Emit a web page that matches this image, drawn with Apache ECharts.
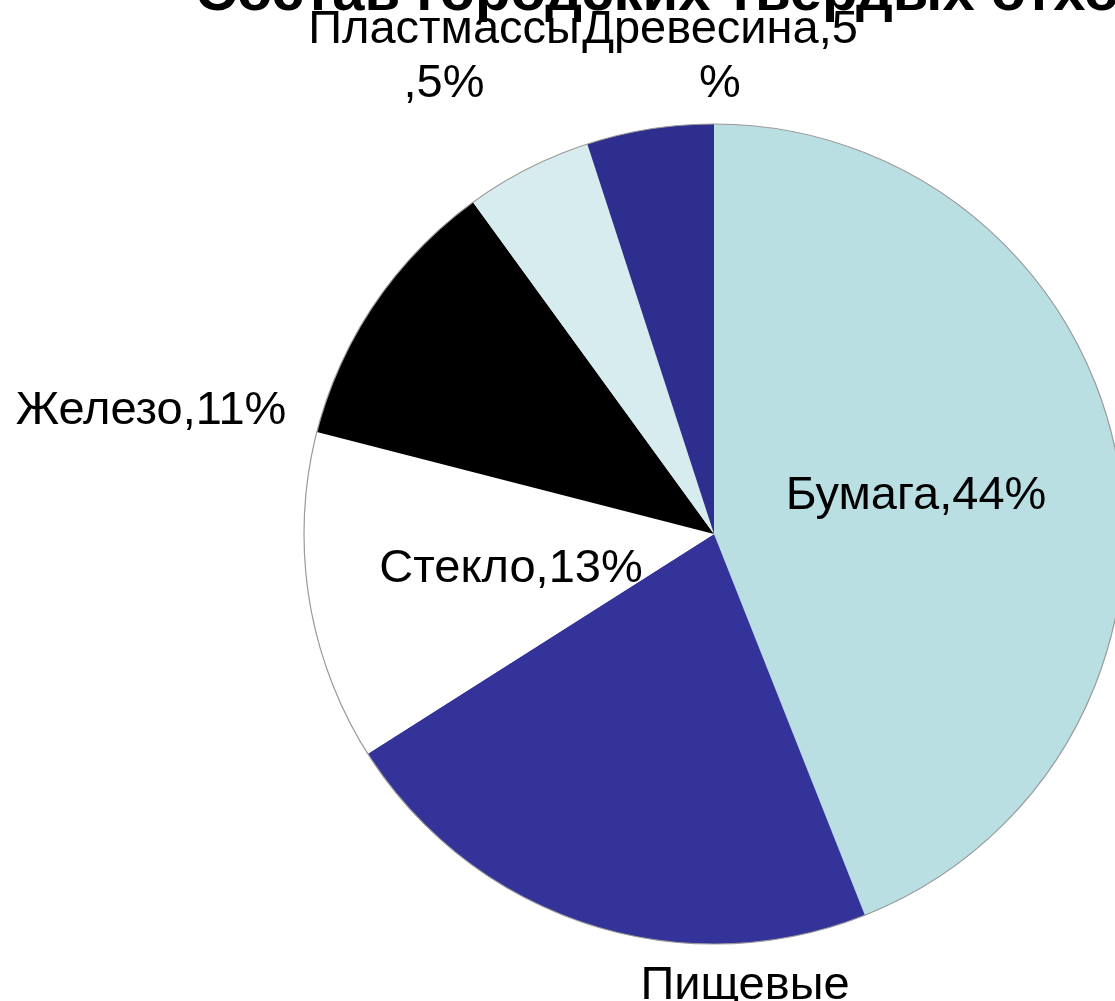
<!DOCTYPE html>
<html>
<head>
<meta charset="utf-8">
<script src="https://cdn.jsdelivr.net/npm/echarts@6/dist/echarts.min.js"></script>
<style>
html,body{margin:0;padding:0;background:#fff;}
#chart{width:1115px;height:1001px;}
</style>
</head>
<body>
<div id="chart"></div>
<script>
const titleText = 'Состав городских твердых отходов';
const categories = ['Бумага', 'Пищевые', 'Стекло', 'Железо', 'Пластмассы', 'Древесина'];
const values = [44, 22, 13, 11, 5, 5];
// where each label wraps onto a second line (character before which to break)
const labelBreak = [null, ',', null, null, ',', '%'];

const colors = ['#B9DFE3', '#333399', '#FFFFFF', '#000000', '#D7ECEE', '#2E2E8E'];
// label centres (px) - layout only
const labelPos = [[916, 496], [745, 1013], [511, 569], [151, 411], [444, 57], [720, 57]];

const chart = echarts.init(document.getElementById('chart'), null, {renderer: 'canvas'});
const FONT = '"Liberation Sans", Arial, sans-serif';

chart.setOption({
  backgroundColor: '#ffffff',
  animation: false,
  title: {
    text: titleText,
    left: 190,
    top: -40,
    textStyle: {fontFamily: FONT, fontSize: 58, fontWeight: 'bold', color: '#000'}
  },
  series: [
    {
      type: 'pie',
      center: [714, 534],
      radius: [0, 410],
      startAngle: 90,
      clockwise: true,
      silent: true,
      avoidLabelOverlap: false,
      itemStyle: {borderWidth: 0},
      labelLine: {show: false},
      label: {
        show: true,
        position: 'inside',
        color: '#000',
        fontFamily: FONT,
        fontSize: 47,
        lineHeight: 54,
        formatter: function (p) {
          let s = p.name + ',' + p.value + '%';
          const b = labelBreak[p.dataIndex];
          if (b) {
            const i = s.indexOf(b);
            s = s.slice(0, i) + '\n' + s.slice(i);
          }
          return s;
        }
      },
      labelLayout: function (p) {
        const pos = labelPos[p.dataIndex];
        return {x: pos[0], y: pos[1], align: 'center', verticalAlign: 'middle'};
      },
      data: categories.map((c, i) => ({name: c, value: values[i], itemStyle: {color: colors[i]}}))
    },
    {
      type: 'pie',
      center: [714, 534],
      radius: [0, 410],
      silent: true,
      z: 3,
      label: {show: false},
      labelLine: {show: false},
      itemStyle: {color: 'rgba(0,0,0,0)', borderColor: '#9a9a9a', borderWidth: 1.2},
      data: [{name: 'outline', value: 1}]
    }
  ]
});
</script>
</body>
</html>
